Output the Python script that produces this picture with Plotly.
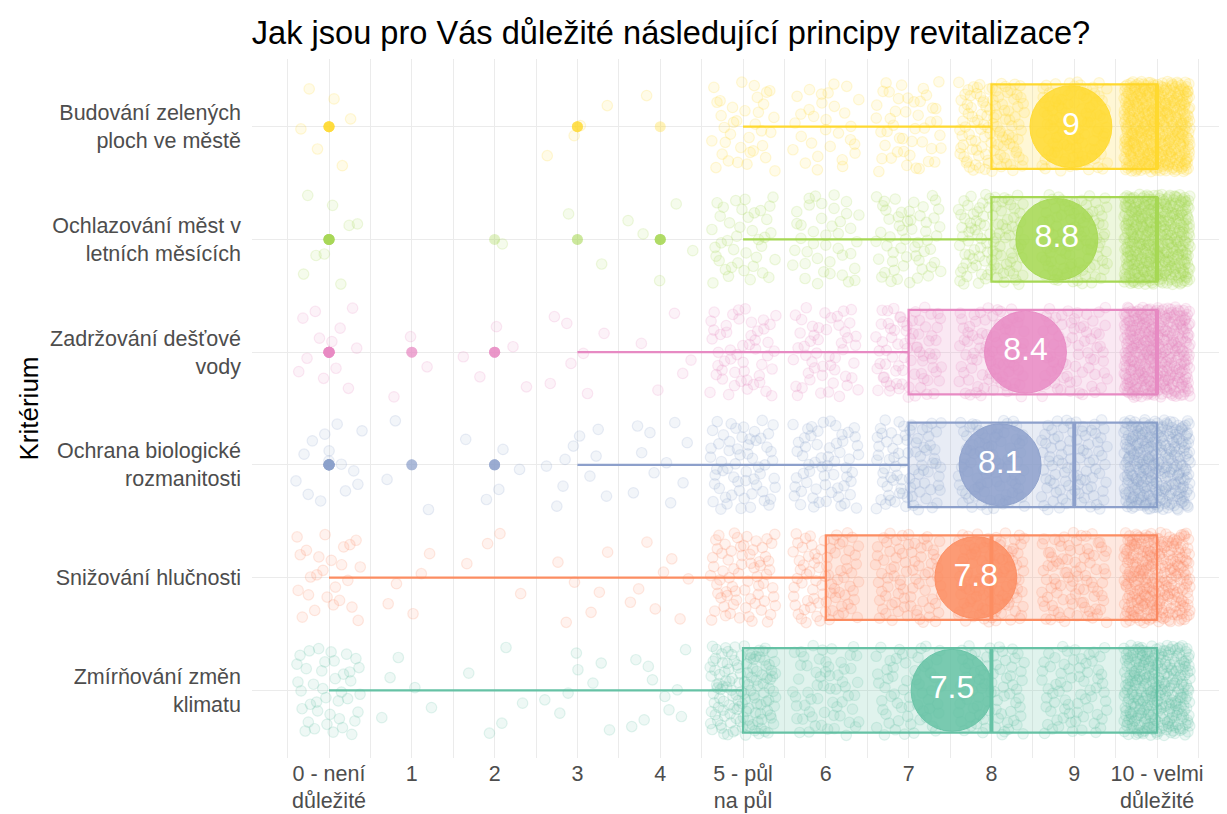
import numpy as np
import plotly.graph_objects as go

# ---------------- data ----------------
categories = [
    "Zmírňování změn<br>klimatu",
    "Snižování hlučnosti",
    "Ochrana biologické<br>rozmanitosti",
    "Zadržování dešťové<br>vody",
    "Ochlazování měst v<br>letních měsících",
    "Budování zelených<br>ploch ve městě",
]
scores = list(range(11))
score_labels = ["0 - není<br>důležité", "1", "2", "3", "4", "5 - půl<br>na půl",
                "6", "7", "8", "9", "10 - velmi<br>důležité"]

# number of answers per score 0..10
counts_zmirnovani = [40, 5, 5, 8, 10, 130, 60, 60, 80, 70, 300]
counts_snizovani = [25, 5, 4, 6, 8, 70, 80, 80, 110, 90, 270]
counts_ochrana = [14, 3, 5, 10, 10, 60, 60, 80, 90, 90, 310]
counts_zadrzovani = [12, 3, 5, 7, 5, 50, 50, 75, 80, 70, 380]
counts_ochlazovani = [8, 0, 1, 2, 5, 40, 40, 55, 100, 100, 440]
counts_budovani = [6, 0, 0, 4, 1, 35, 30, 45, 110, 110, 480]

all_counts = [counts_zmirnovani, counts_snizovani, counts_ochrana,
              counts_zadrzovani, counts_ochlazovani, counts_budovani]
colors = ["#66C2A5", "#FC8D62", "#8DA0CB", "#E78AC3", "#A6D854", "#FFD92F"]

title_text = "Jak jsou pro Vás důležité následující principy revitalizace?"
y_title = "Kritérium"


def rgba(hex_color, a):
    h = hex_color.lstrip("#")
    r, g, b = int(h[0:2], 16), int(h[2:4], 16), int(h[4:6], 16)
    return f"rgba({r},{g},{b},{a})"


FONT = "Liberation Sans, Arial, sans-serif"
BOXW = 0.75
W, H = 1219, 806          # page body has an 8px margin
L, T, B = 244, 51.4, 56.4
PW = W - L

fig = go.Figure()

# deterministic low-discrepancy jitter (visual spreading only, Halton 2/3)
def halton(i, base):
    f, r = 1.0, 0.0
    while i > 0:
        f /= base
        r += f * (i % base)
        i //= base
    return r


JW = 0.4
k = 7
for ci, (counts, col) in enumerate(zip(all_counts, colors)):
    pos = ci + 1
    xs, ys = [], []
    for v, n in zip(scores, counts):
        for _ in range(n):
            k += 1
            dx = (halton(k, 2) - 0.5) * 2 * JW
            dy = (halton(k, 3) - 0.5) * 2 * JW
            xs.append(v + dx)
            ys.append(pos + dy)
    fig.add_trace(go.Scatter(
        x=xs, y=ys, mode="markers", hoverinfo="skip", showlegend=False,
        marker=dict(size=10.5, color=rgba(col, 0.11),
                    line=dict(color=rgba(col, 0.18), width=1.2)),
    ))

for ci, (counts, col) in enumerate(zip(all_counts, colors)):
    pos = ci + 1
    vals = np.repeat(scores, counts)
    fig.add_trace(go.Box(
        x=vals, y=[pos] * len(vals), orientation="h", width=BOXW,
        boxpoints="outliers", jitter=0, pointpos=0, whiskerwidth=0,
        fillcolor=rgba(col, 0.2), line=dict(color=col, width=2.2),
        marker=dict(color=col, size=11, opacity=0.35, line=dict(width=0)),
        hoverinfo="skip", showlegend=False,
    ))
    med = float(np.median(vals))
    fig.add_trace(go.Scatter(
        x=[med, med], y=[pos - BOXW / 2, pos + BOXW / 2], mode="lines",
        line=dict(color=col, width=4), hoverinfo="skip", showlegend=False,
    ))

for ci, (counts, col) in enumerate(zip(all_counts, colors)):
    pos = ci + 1
    m = float(np.average(scores, weights=counts))
    fig.add_trace(go.Scatter(
        x=[m], y=[pos], mode="markers+text", text=[f"{round(m, 1):g}"],
        textposition="middle center",
        textfont=dict(family=FONT, size=32, color="white"),
        marker=dict(size=82, color=rgba(col, 0.85), line=dict(color=rgba(col, 0.9), width=1)),
        hoverinfo="skip", showlegend=False,
    ))

fig.update_layout(
    width=W, height=H,
    margin=dict(l=L, r=0, t=T, b=B, autoexpand=False),
    paper_bgcolor="white", plot_bgcolor="white",
    font=dict(family=FONT, color="#4D4D4D"),
    boxmode="overlay",
    title=dict(text=title_text, x=663 / W, xref="container", xanchor="center",
               y=1 - 25 / H, yref="container", yanchor="middle", automargin=False,
               font=dict(family=FONT, size=32.6, color="black")),
    xaxis=dict(range=[-0.93, 10.845], tickvals=scores, ticktext=score_labels,
               showgrid=True, gridcolor="#EBEBEB", gridwidth=1.4, automargin=False,
               minor=dict(dtick=0.5, tick0=0.5, showgrid=True, gridcolor="#EBEBEB", gridwidth=0.7),
               zeroline=False, showline=False, ticks="", ticklabelstandoff=0,
               tickfont=dict(family=FONT, size=21.5, color="#4D4D4D")),
    yaxis=dict(range=[0.4, 6.6], tickvals=[1, 2, 3, 4, 5, 6], ticktext=categories,
               showgrid=True, gridcolor="#EBEBEB", gridwidth=1.4, automargin=False,
               zeroline=False, showline=False, ticks="", ticklabelstandoff=10,
               tickfont=dict(family=FONT, size=21.5, color="#4D4D4D")),
    annotations=[dict(text=y_title, textangle=-90, xref="paper", yref="paper",
                      x=(20 - L) / PW, y=0.5, xanchor="center", yanchor="middle",
                      showarrow=False, font=dict(family=FONT, size=26, color="black"))],
)

fig.write_html("out.html")
